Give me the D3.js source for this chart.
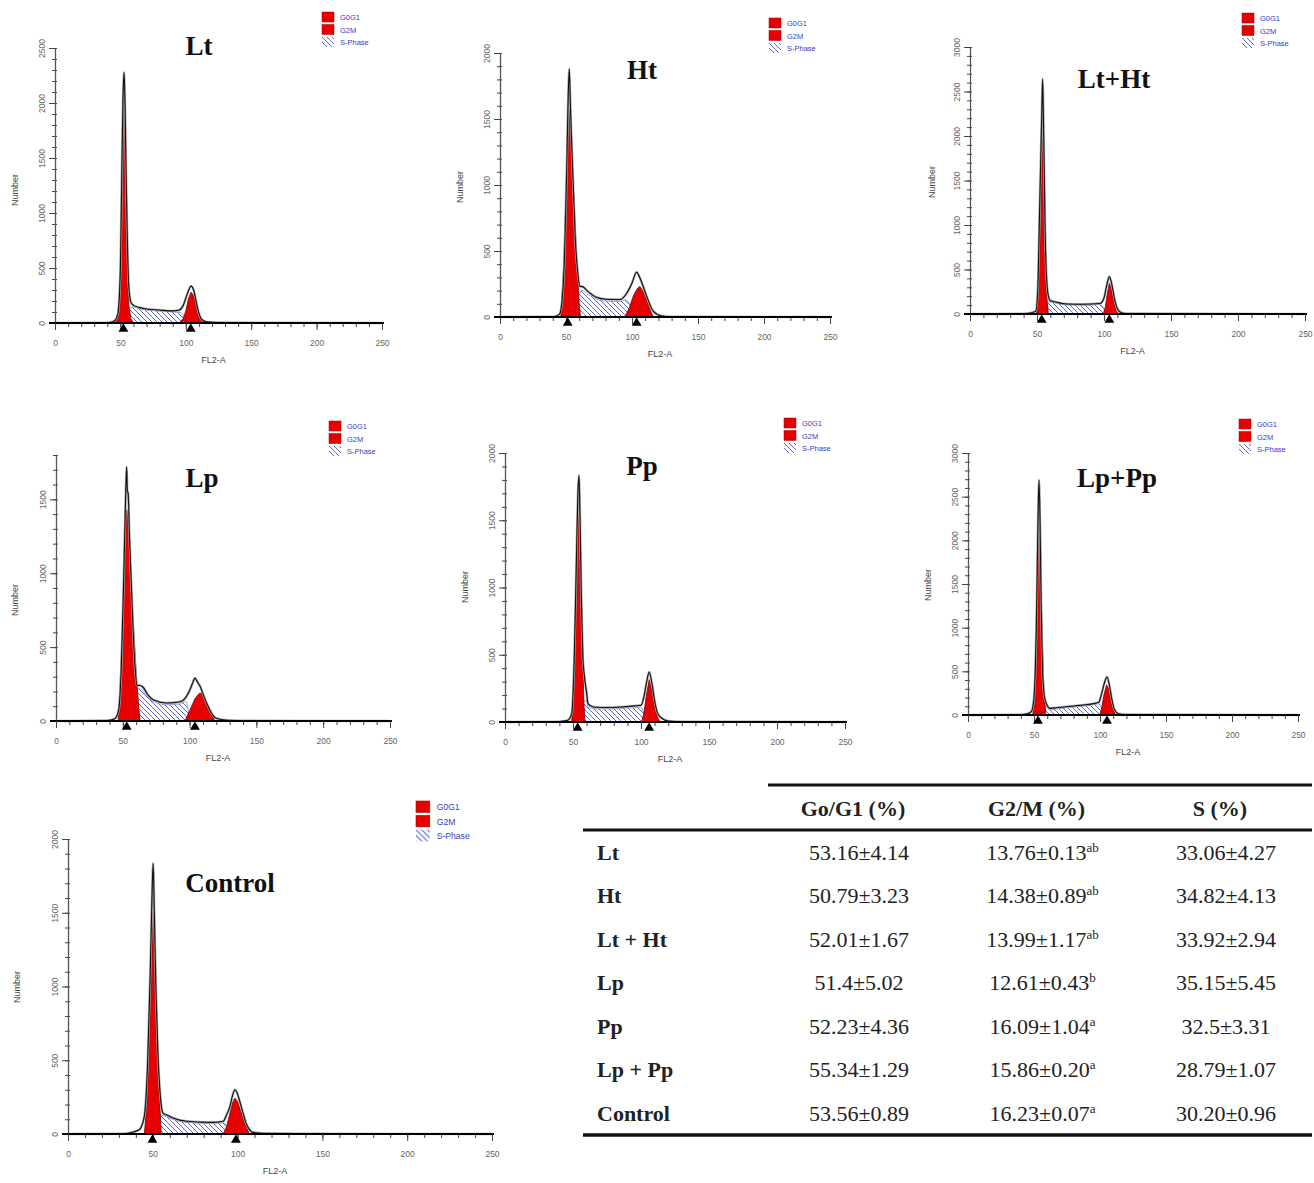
<!DOCTYPE html>
<html>
<head>
<meta charset="utf-8">
<script src="https://cdn.jsdelivr.net/npm/d3@7"></script>
<style>
    body { margin: 0; background: #fff; }
    svg { display: block; }
    .tick text { font-family: "Liberation Sans", Arial, sans-serif; font-size: 8.5px; fill: #666; }
    .yaxis path.domain { stroke: #555; stroke-width: 1.3; }
    .xaxis path.domain { stroke: #000; stroke-width: 2; }
    .tick line { stroke: #444; stroke-width: 1; }
    .axlabel { font-family: "Liberation Sans", Arial, sans-serif; font-size: 9px; fill: #444; }
    .ptitle { font-family: "Liberation Serif", "Times New Roman", serif; font-weight: bold; font-size: 27px; fill: #111; }
    .leg { font-family: "Liberation Sans", Arial, sans-serif; font-size: 7.5px; fill: #3440c8; }
    .tbl { font-family: "Liberation Serif", "Times New Roman", serif; font-size: 22px; fill: #222; }
    .tblb { font-weight: bold; }
</style>
</head>
<body>
<script>

// ---- histogram data, [FL2-A channel, count] ----
const panelNames = ["Lt", "Ht", "Lt+Ht", "Lp", "Pp", "Lp+Pp", "Control"];
const yMaxes = [2500, 2000, 3000, 1800, 2000, 3000, 2000];
const g1Marks = [52.3, 51.3, 53.5, 52.9, 53.4, 53, 49.8];
const g2Marks = [103.8, 103.5, 104, 104, 106, 105.3, 99];
const legendItems = ["G0G1", "G2M", "S-Phase"];

const outlineLt = [[0,0],[40,2],[45,15],[48,80],[50,500],[51,1300],[52,2050],[52.8,2280],[53.6,1950],[54.5,1250],[55.5,650],[56.5,320],[58,190],[60,160],[65,140],[70,128],[80,118],[90,110],[95,118],[98,160],[101,260],[104,335],[106,300],[108,190],[110,90],[112,35],[116,10],[125,4],[250,0]];
const g1Lt = [[45,0],[48,50],[50,420],[51,1150],[52,1800],[52.8,1970],[53.6,1700],[54.5,1050],[55.5,450],[56.5,160],[58,40],[60,0]];
const sLt = [[56,0],[57,130],[60,145],[65,128],[70,118],[80,108],[90,100],[96,95],[99,50],[101,0]];
const g2Lt = [[95,0],[98,40],[100,110],[102,220],[104,280],[106,250],[108,160],[110,70],[112,20],[114,0]];

const outlineHt = [[0,0],[40,2],[45,20],[47,120],[49,500],[50.5,1100],[51.5,1600],[52.5,1880],[53.2,1650],[54,1400],[55.5,1000],[57,600],[59,330],[60.6,230],[62,232],[67,190],[73,150],[80,135],[91,133],[96,180],[100,258],[103.5,340],[106,295],[111,160],[116,45],[122,10],[130,3],[250,0]];
const g1Ht = [[46,0],[48,350],[50,900],[52,1500],[52.5,1580],[54,1300],[56,900],[58,480],[60,100],[61,0]];
const sHt = [[58,0],[60,170],[62,200],[67,170],[73,135],[80,120],[91,118],[95,130],[98,100],[100,0]];
const g2Ht = [[94.5,0],[98,70],[101,160],[104,215],[106,232],[108,200],[111,130],[114,50],[116,0]];

const outlineLtHt = [[0,0],[40,3],[45,12],[49,30],[50.5,250],[52,1200],[53.5,2200],[54.2,2640],[55,2000],[56,1000],[57,450],[58.5,200],[60,150],[64,135],[72,112],[85,110],[97,118],[100,180],[102,320],[104,420],[106,320],[108,160],[110,60],[113,15],[118,5],[250,0]];
const g1LtHt = [[49.5,0],[51,200],[52.5,1000],[53.8,2100],[55,1400],[56,650],[57,250],[58.5,0]];
const sLtHt = [[57,0],[58,120],[60,135],[64,122],[72,102],[85,100],[97,105],[100,60],[101,0]];
const g2LtHt = [[99.5,0],[101,80],[102.5,230],[104,345],[105.5,280],[107.5,120],[109,40],[110.7,0]];

const outlineLp = [[0,0],[38,3],[44,15],[47,80],[49,400],[50.5,900],[51.8,1400],[52.9,1720],[53.4,1560],[54,1540],[55,1250],[56.5,900],[58,550],[59.5,330],[60.5,240],[63,240],[65,230],[69,175],[73,142],[83,122],[93,130],[99,187],[102,250],[104,290],[106,262],[108,232],[111,160],[114,97],[117,45],[120,18],[128,5],[140,2],[250,0]];
const g1Lp = [[46.5,0],[48,250],[50,700],[52,1250],[53,1430],[54,1350],[56,1000],[58,650],[60,330],[62,80],[63,0]];
const sLp = [[59,0],[60,190],[62,220],[65,205],[69,160],[73,130],[83,110],[93,115],[97,130],[99,70],[100,0]];
const g2Lp = [[96.5,0],[100,70],[104,150],[107,185],[109,190],[111,160],[114,95],[117,35],[119,0]];

const outlinePp = [[0,0],[40,3],[46,12],[49,60],[51,500],[52.5,1200],[53.6,1700],[54.4,1834],[55.2,1500],[56.2,900],[57.2,500],[58.5,330],[60,220],[61,136],[65,112],[75,108],[85,112],[95,120],[100,125],[102,180],[104,290],[106,372],[108,290],[110,160],[112,70],[115,30],[120,8],[130,3],[250,0]];
const g1Pp = [[49,0],[50.5,200],[52,800],[53.5,1500],[54.4,1760],[55.2,1500],[56.2,950],[57.2,450],[58,150],[58.8,0]];
const sPp = [[57,0],[58,150],[60,160],[61,110],[65,100],[75,96],[85,100],[95,106],[100,110],[102,60],[103,0]];
const g2Pp = [[100.5,0],[102,60],[104,200],[106,315],[108,240],[110,120],[112,40],[114,0]];

const outlineLpPp = [[0,0],[38,3],[45,15],[48,40],[50,200],[52,1200],[53,2200],[53.8,2690],[54.6,2200],[55.5,1200],[56.5,500],[58,200],[60,110],[62,76],[68,85],[74.5,95],[85,110],[95,130],[99,145],[101,230],[103,350],[105.3,438],[107,350],[109,180],[111,60],[114,15],[120,5],[250,0]];
const g1LpPp = [[49,0],[50.5,150],[52,900],[53.5,2200],[54.3,2450],[55,2000],[56,1000],[57.5,300],[59,0]];
const sLpPp = [[57,0],[58,100],[60,80],[62,60],[68,72],[74.5,82],[85,98],[95,118],[99,130],[101,70],[102,0]];
const g2LpPp = [[99.7,0],[101,60],[103,230],[105,345],[106.5,300],[108.5,150],[110.5,40],[112,0]];

const outlineCtrl = [[0,0],[33,2],[36,7],[42,29],[45,120],[47,500],[48.5,1100],[49.5,1600],[50.2,1835],[50.9,1500],[51.8,1000],[53,550],[54.5,250],[56,142],[59,125],[62,108],[70,86],[80,80],[85.6,79],[91.5,86],[93.5,130],[95.5,187],[97,260],[98.4,300],[100,270],[101,232],[103,150],[105,74],[107,30],[109,11],[115,4],[150,2],[250,0]];
const g1Ctrl = [[45,0],[46.5,200],[48,650],[49.3,1200],[50.2,1500],[51,1250],[52,800],[53.5,350],[55,0]];
const sCtrl = [[53,0],[54,130],[56,125],[59,112],[62,98],[70,78],[80,72],[85.6,70],[91.5,75],[94,40],[95,0]];
const g2Ctrl = [[91.5,0],[93.5,50],[95.5,140],[97,210],[98.4,244],[100,220],[102,150],[104,80],[106,25],[107,0]];

const outlines = [outlineLt, outlineHt, outlineLtHt, outlineLp, outlinePp, outlineLpPp, outlineCtrl];
const g1Fits = [g1Lt, g1Ht, g1LtHt, g1Lp, g1Pp, g1LpPp, g1Ctrl];
const sFits = [sLt, sHt, sLtHt, sLp, sPp, sLpPp, sCtrl];
const g2Fits = [g2Lt, g2Ht, g2LtHt, g2Lp, g2Pp, g2LpPp, g2Ctrl];

// ---- table ----
const rowLabels = ["Lt", "Ht", "Lt + Ht", "Lp", "Pp", "Lp + Pp", "Control"];
const colHeaders = ["Go/G1 (%)", "G2/M (%)", "S (%)"];
const g0g1Vals = ["53.16±4.14", "50.79±3.23", "52.01±1.67", "51.4±5.02", "52.23±4.36", "55.34±1.29", "53.56±0.89"];
const g2mVals = ["13.76±0.13", "14.38±0.89", "13.99±1.17", "12.61±0.43", "16.09±1.04", "15.86±0.20", "16.23±0.07"];
const g2mSup = ["ab", "ab", "ab", "b", "a", "a", "a"];
const sVals = ["33.06±4.27", "34.82±4.13", "33.92±2.94", "35.15±5.45", "32.5±3.31", "28.79±1.07", "30.20±0.96"];

// ---- layout of each little plot (pixels) ----
const frames = [
    {x0: 55,  x1: 382,  yTop: 48,  yBase: 323,  tx: 199,  ty: 55,  lx: 322,  ly: 12,  nx: 15,  ny: 190, ls: 1},
    {x0: 500, x1: 830,  yTop: 53,  yBase: 317,  tx: 642,  ty: 79,  lx: 769,  ly: 18,  nx: 460, ny: 187, ls: 1},
    {x0: 970, x1: 1305, yTop: 47,  yBase: 314,  tx: 1114, ty: 88,  lx: 1242, ly: 13,  nx: 932, ny: 182, ls: 1},
    {x0: 56,  x1: 390,  yTop: 455, yBase: 721,  tx: 202,  ty: 487, lx: 329,  ly: 421, nx: 15,  ny: 600, ls: 1},
    {x0: 505, x1: 845,  yTop: 453, yBase: 722,  tx: 642,  ty: 475, lx: 784,  ly: 418, nx: 465, ny: 587, ls: 1},
    {x0: 968, x1: 1298, yTop: 453, yBase: 715,  tx: 1117, ty: 487, lx: 1239, ly: 419, nx: 928, ny: 585, ls: 1},
    {x0: 68,  x1: 492,  yTop: 839, yBase: 1134, tx: 230,  ty: 892, lx: 416,  ly: 801, nx: 17,  ny: 987, ls: 1.15}
];

const width = 1314, height = 1183;
const svg = d3.select("body").append("svg")
    .attr("width", width)
    .attr("height", height);

const defs = svg.append("defs");
const pat = defs.append("pattern")
    .attr("id", "hatch")
    .attr("patternUnits", "userSpaceOnUse")
    .attr("width", 5)
    .attr("height", 5);
pat.append("rect").attr("width", 5).attr("height", 5).attr("fill", "#fff");
pat.append("path")
    .attr("d", "M0,0L5,5M-1,4L1,6M4,-1L6,1")
    .attr("stroke", "#4658c8")
    .attr("stroke-width", 0.9);

panelNames.forEach(function (name, i) {
    const f = frames[i];
    const g = svg.append("g");

    const x = d3.scaleLinear().domain([0, 250]).range([f.x0, f.x1]);
    const y = d3.scaleLinear().domain([0, yMaxes[i]]).range([f.yBase, f.yTop]);

    const area = d3.area()
        .x(function (d) { return x(d[0]); })
        .y0(y(0))
        .y1(function (d) { return y(d[1]); });
    const line = d3.line()
        .x(function (d) { return x(d[0]); })
        .y(function (d) { return y(d[1]); })
        .curve(d3.curveMonotoneX);

    // minor ticks first
    g.append("g")
        .attr("transform", "translate(0," + f.yBase + ")")
        .call(d3.axisBottom(x).tickValues(d3.range(0, 251, 10)).tickSize(4).tickFormat(""))
        .call(function (s) { s.select(".domain").remove(); });
    g.append("g")
        .attr("transform", "translate(" + f.x0 + ",0)")
        .call(d3.axisLeft(y).tickValues(d3.range(0, yMaxes[i] + 1, 100)).tickSize(4).tickFormat(""))
        .call(function (s) { s.select(".domain").remove(); s.selectAll("line").attr("x2", -3).attr("x1", 2); });

    // y axis
    g.append("g")
        .attr("class", "yaxis")
        .attr("transform", "translate(" + f.x0 + ",0)")
        .call(d3.axisLeft(y).tickValues(d3.range(0, yMaxes[i] + 1, 500)).tickFormat(d3.format("d")).tickSize(6).tickSizeOuter(0))
        .call(function (s) {
            s.selectAll(".tick text")
                .attr("transform", "rotate(-90)")
                .attr("x", 0)
                .attr("y", -10)
                .attr("dy", 0)
                .attr("text-anchor", "middle");
        });

    // fits: S phase hatched, G1 and G2 red
    g.append("path")
        .attr("d", area.curve(d3.curveMonotoneX)(sFits[i]))
        .attr("fill", "url(#hatch)")
        .attr("stroke", "#5a6ad0")
        .attr("stroke-width", 0.6);
    [g1Fits[i], g2Fits[i]].forEach(function (fit) {
        g.append("path")
            .attr("d", area.curve(d3.curveLinear)(fit))
            .attr("fill", "#e60000")
            .attr("stroke", "#7a0000")
            .attr("stroke-width", 0.8);
    });

    // measured histogram outline
    g.append("path")
        .attr("d", line(outlines[i]))
        .attr("fill", "none")
        .attr("stroke", "#aaa")
        .attr("stroke-width", 2.4);
    g.append("path")
        .attr("d", line(outlines[i]))
        .attr("fill", "none")
        .attr("stroke", "#111")
        .attr("stroke-width", 1.1);

    // x axis
    g.append("g")
        .attr("class", "xaxis")
        .attr("transform", "translate(0," + f.yBase + ")")
        .call(d3.axisBottom(x).tickValues(d3.range(0, 251, 50)).tickSize(7).tickSizeOuter(0).tickPadding(10))
        .call(function (s) { s.select(".domain").attr("d", "M" + (f.x0 - 6) + ",0H" + (f.x1 + 2)); });

    // peak position markers
    g.selectAll("path.mark")
        .data([g1Marks[i], g2Marks[i]])
        .enter().append("path")
        .attr("class", "mark")
        .attr("d", d3.symbol(d3.symbolTriangle, 42))
        .attr("transform", function (d) { return "translate(" + x(d) + "," + (f.yBase + 6) + ")"; })
        .attr("fill", "#000");

    // labels
    g.append("text")
        .attr("class", "axlabel")
        .attr("x", (f.x0 + f.x1) / 2 - 5)
        .attr("y", f.yBase + 40)
        .attr("text-anchor", "middle")
        .text("FL2-A");
    g.append("text")
        .attr("class", "axlabel")
        .attr("transform", "translate(" + f.nx + "," + f.ny + ") rotate(-90)")
        .attr("text-anchor", "middle")
        .attr("dy", "0.35em")
        .text("Number");
    g.append("text")
        .attr("class", "ptitle")
        .attr("x", f.tx)
        .attr("y", f.ty)
        .attr("text-anchor", "middle")
        .text(name);

    // legend
    const leg = g.append("g")
        .attr("transform", "translate(" + f.lx + "," + f.ly + ") scale(" + f.ls + ")");
    legendItems.forEach(function (item, k) {
        leg.append("rect")
            .attr("x", 0)
            .attr("y", k * 12.5)
            .attr("width", 12)
            .attr("height", 10)
            .attr("fill", k < 2 ? "#e60000" : "url(#hatch)")
            .attr("stroke", k < 2 ? "#a00" : "none")
            .attr("stroke-width", 0.5);
        leg.append("text")
            .attr("class", "leg")
            .attr("x", 18)
            .attr("y", k * 12.5 + 8)
            .text(item);
    });
});

// ---- table ----
const tbl = svg.append("g");
const rowY = d3.scalePoint().domain(rowLabels).range([852, 1113]);
const colX = d3.scalePoint().domain(colHeaders).range([853, 1220]);
const columns = [g0g1Vals, g2mVals, sVals];

tbl.append("line").attr("x1", 768).attr("x2", 1312).attr("y1", 785).attr("y2", 785)
    .attr("stroke", "#111").attr("stroke-width", 3);
tbl.append("line").attr("x1", 583).attr("x2", 1312).attr("y1", 830).attr("y2", 830)
    .attr("stroke", "#111").attr("stroke-width", 3);
tbl.append("line").attr("x1", 583).attr("x2", 1312).attr("y1", 1135).attr("y2", 1135)
    .attr("stroke", "#111").attr("stroke-width", 3.5);

tbl.selectAll("text.head")
    .data(colHeaders)
    .enter().append("text")
    .attr("class", "tbl tblb head")
    .attr("x", function (d) { return colX(d); })
    .attr("y", 808)
    .attr("dy", "0.35em")
    .attr("text-anchor", "middle")
    .text(function (d) { return d; });

tbl.selectAll("text.rlab")
    .data(rowLabels)
    .enter().append("text")
    .attr("class", "tbl tblb rlab")
    .attr("x", 597)
    .attr("y", function (d) { return rowY(d); })
    .attr("dy", "0.35em")
    .text(function (d) { return d; });

columns.forEach(function (vals, c) {
    vals.forEach(function (v, r) {
        const t = tbl.append("text")
            .attr("class", "tbl")
            .attr("x", colX(colHeaders[c]) + 6)
            .attr("y", rowY(rowLabels[r]))
            .attr("dy", "0.35em")
            .attr("text-anchor", "middle");
        t.append("tspan").text(v);
        if (c === 1) {
            t.append("tspan")
                .attr("font-size", 13)
                .attr("dy", -8)
                .text(g2mSup[r]);
        }
    });
});

</script>
</body>
</html>
